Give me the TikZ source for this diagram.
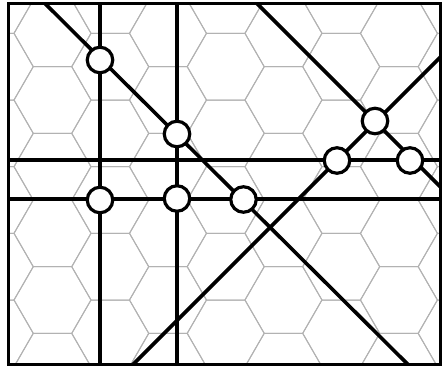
\documentclass[tikz,border=0pt]{standalone}
\usepackage{tikz}
\usetikzlibrary{calc}
\tikzset{
hexline/.style={
draw=black!30,
line width=1pt
},
boxline/.style={
draw,
line width=2.3pt
},
cutline/.style={
line width=3.6pt
},
marker/.style={
circle,
draw,
fill=white,
line width=3.2pt,
minimum size=25.5pt,
inner sep=0pt
}
}

\begin{document}
\begin{tikzpicture}[x=1pt,y=-1pt]
\useasboundingbox (0,0) rectangle (445,367);

% frame corners
\coordinate (tl) at (8.5,3.5);
\coordinate (br) at (440.5,364.5);

% hexagon background
\begin{scope}
\clip (tl) rectangle (br);
\foreach \i in {-1,...,7}{
\foreach \j in {-1,...,6}{
\pgfmathsetmacro\cx{52.5+57.74*\i}
\pgfmathsetmacro\cy{33.33+66.67*\j-33.33*mod(\i+2,2)}
\draw[hexline] (\cx+38.49,\cy) -- (\cx+19.25,\cy+33.33) -- (\cx-19.25,\cy+33.33)
-- (\cx-38.49,\cy) -- (\cx-19.25,\cy-33.33) -- (\cx+19.25,\cy-33.33) -- cycle;
}
}
\end{scope}

% line ends on the frame
\coordinate (v1t) at (100,3.5);
\coordinate (v1b) at (100,364.5);
\coordinate (v2t) at (177,3.5);
\coordinate (v2b) at (177,364.5);
\coordinate (h1l) at (8.5,160);
\coordinate (h1r) at (440.5,160);
\coordinate (h2l) at (8.5,199);
\coordinate (h2r) at (440.5,199);
\coordinate (d1t) at (45,3.5);
\coordinate (d1b) at (408,364.5);
\coordinate (d2t) at (257,3.5);
\coordinate (d2b) at (440.5,187);
\coordinate (d3b) at (133,364.5);
\coordinate (d3t) at (440.5,57);

\begin{scope}
\clip (tl) rectangle (br);
\draw[cutline](v1t)--(v1b);
\draw[cutline](v2t)--(v2b);
\draw[cutline](h1l)--(h1r);
\draw[cutline](h2l)--(h2r);
\draw[cutline](d1t)--(d1b);
\draw[cutline](d2t)--(d2b);
\draw[cutline](d3b)--(d3t);
\end{scope}

\draw[boxline](tl) rectangle (br);

% crossing marks
\node[marker](p1) at (100,60){};
\node[marker](p2) at (177,134){};
\node[marker](p3) at (100,200){};
\node[marker](p4) at (177,198.5){};
\node[marker](p5) at (243.5,199.5){};
\node[marker](p6) at (337,160.5){};
\node[marker](p7) at (375,121){};
\node[marker](p8) at (410,160.5){};
\end{tikzpicture}
\end{document}
